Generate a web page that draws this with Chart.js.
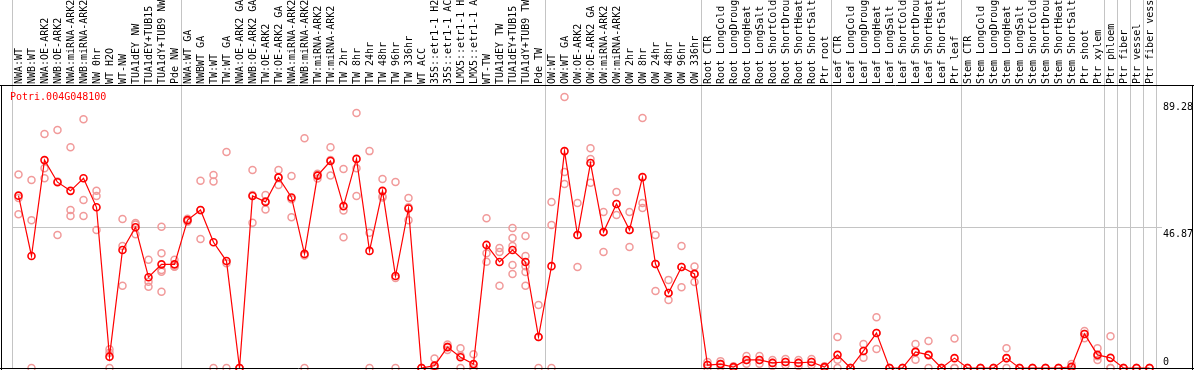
<!DOCTYPE html>
<html>
<head>
<meta charset="utf-8">
<script src="https://cdn.jsdelivr.net/npm/chart.js@4.4.0/dist/chart.umd.min.js"></script>
<style>
  html, body { margin: 0; padding: 0; background: #fff; }
</style>
</head>
<body>
<canvas id="grafico" width="1194" height="370"></canvas>
<script>
// Muestras (eje x, arriba)
const muestras = [
  'NWA:WT', 'NWB:WT', 'NWA:OE-ARK2', 'NWB:OE-ARK2', 'NWA:miRNA-ARK2', 'NWB:miRNA-ARK2',
  'NW 0hr', 'WT H2O', 'WT-NW', 'TUA1dEY NW', 'TUA1dEY+TUB15 NW', 'TUA1dY+TUB9 NW', 'Pde NW',
  'NWA:WT GA', 'NWBWT GA', 'TW:WT', 'TW:WT GA', 'NWA:OE-ARK2 GA', 'NWB:OE-ARK2 GA',
  'TW:OE-ARK2', 'TW:OE-ARK2 GA', 'NWA:miRNA-ARK2', 'NWB:miRNA-ARK2', 'TW:miRNA-ARK2', 'TW:miRNA-ARK2',
  'TW 2hr', 'TW 8hr', 'TW 24hr', 'TW 48hr', 'TW 96hr', 'TW 336hr', 'WT ACC',
  '35S::etr1-1 H2O', '35S::etr1-1 ACC', 'LMX5::etr1-1 H2O', 'LMX5::etr1-1 ACC',
  'WT-TW', 'TUA1dEY TW', 'TUA1dEY+TUB15 TW', 'TUA1dY+TUB9 TW', 'Pde TW',
  'OW:WT', 'OW:WT GA', 'OW:OE-ARK2', 'OW:OE-ARK2 GA', 'OW:miRNA-ARK2', 'OW:miRNA-ARK2',
  'OW 2hr', 'OW 8hr', 'OW 24hr', 'OW 48hr', 'OW 96hr', 'OW 336hr',
  'Root CTR', 'Root LongCold', 'Root LongDrought', 'Root LongHeat', 'Root LongSalt',
  'Root ShortCold', 'Root ShortDrought', 'Root ShortHeat', 'Root ShortSalt', 'Ptr root',
  'Leaf CTR', 'Leaf LongCold', 'Leaf LongDrought', 'Leaf LongHeat', 'Leaf LongSalt',
  'Leaf ShortCold', 'Leaf ShortDrought', 'Leaf ShortHeat', 'Leaf ShortSalt', 'Ptr leaf',
  'Stem CTR', 'Stem LongCold', 'Stem LongDrought', 'Stem LongHeat', 'Stem LongSalt',
  'Stem ShortCold', 'Stem ShortDrought', 'Stem ShortHeat', 'Stem ShortSalt',
  'Ptr shoot', 'Ptr xylem', 'Ptr phloem', 'Ptr fiber', 'Ptr vessel', 'Ptr fiber vessel'
];

// Valor medio por muestra (linea roja)
const medias = [
  57.7, 37.5, 69.6, 62.2, 59.3, 63.5, 53.8, 3.8, 39.5, 47.1, 30.4, 34.7, 34.7,
  49.5, 52.9, 42.1, 35.8, 0, 57.6, 55.6, 63.8, 57.1, 38.2, 64.4, 69.3,
  54.2, 70.0, 39.2, 59.3, 30.8, 53.4, 0, 0.8, 7.0, 3.6, 1.3,
  41.2, 35.5, 39.5, 35.5, 10.4,
  34.1, 72.6, 44.5, 68.6, 45.5, 54.9, 46.2, 63.9, 34.8, 25.1, 33.8, 31.5,
  1.0, 1.3, 0.3, 2.7, 2.7, 1.7, 2.0, 1.7, 2.0, 0.3,
  4.4, 0, 5.7, 11.7, 0, 0, 5.4, 4.4, 0, 3.3,
  0, 0, 0, 3.3, 0, 0, 0, 0, 0.4,
  11.4, 4.4, 3.4, 0, 0, 0
];

// Replicas por muestra (circulos rosados)
const replicas = [
  [64.8, 51.5, 56.9], [62.9, 49.5, 0], [78.3, 66.9, 63.5], [79.7, 44.5, 62.4],
  [73.9, 52.9, 50.9], [83.3, 56.2, 50.9], [59.3, 57.6, 46.2], [6.3, 5.1, 0],
  [49.9, 40.8, 27.5], [48.0, 48.5, 44.8], [36.2, 28.9, 27.2], [47.3, 38.4, 32.8, 32.2, 25.5],
  [36.2, 33.9, 34.0],
  [49.5, 49.0, 50.0], [62.7, 43.2, 52.8], [64.6, 62.4, 0], [72.3, 0, 35.1], [0, 0, 0],
  [66.3, 48.6, 57.9], [57.9, 53.1, 55.8], [66.3, 61.3, 63.8], [64.3, 50.5, 56.5],
  [76.9, 37.7, 0], [64.8, 63.4, 65.0], [73.9, 64.4, 69.6],
  [66.6, 52.7, 43.8], [85.4, 66.9, 57.6], [72.6, 45.3, 0], [63.3, 57.1, 57.5],
  [62.3, 0, 30.1], [56.9, 49.5, 53.8], [0, 0, 0],
  [3.2, 0.4, 0], [7.9, 6.0, 7.1], [6.6, 0, 4.2], [4.6, 0, 0],
  [50.1, 38.4, 35.6], [38.8, 27.5, 40.2], [46.9, 40.8, 34.5, 31.5, 43.5],
  [44.2, 37.5, 34.1, 27.5, 32.1], [21.1, 0, 10.4],
  [55.6, 47.9, 0], [90.7, 65.6, 61.6], [55.2, 44.5, 33.8], [73.6, 62.0, 70.0],
  [52.2, 45.5, 38.8], [58.9, 54.9, 51.2], [52.2, 46.2, 40.5], [83.7, 53.6, 55.2],
  [44.5, 34.8, 25.8], [29.5, 25.1, 22.8], [40.8, 33.8, 27.0], [31.5, 28.8, 34.0],
  [2.0, 1.0, 0], [2.3, 1.3, 0.3], [0.6, 0.3, 0], [4.0, 2.7, 1.4], [4.0, 2.7, 1.4],
  [2.7, 1.7, 0.7], [3.0, 2.0, 1.0], [2.7, 1.7, 0.7], [3.0, 2.0, 1.0], [0.6, 0.3, 0],
  [10.4, 2.8, 0], [0, 0, 0], [8.0, 5.7, 3.4], [17.0, 11.7, 6.4], [0, 0, 0], [0, 0, 0],
  [8.0, 5.4, 2.8], [9.0, 4.2, 0], [0, 0, 0], [9.9, 0, 0],
  [0, 0, 0], [0, 0, 0], [0, 0, 0], [6.6, 3.3, 0], [0, 0, 0], [0, 0, 0],
  [0, 0, 0], [0, 0, 0], [1.3, 0, 0],
  [12.4, 11.4, 10.0], [6.6, 2.7, 3.9], [10.6, 0, 0], [0, 0, 0], [0, 0, 0], [0, 0, 0]
];

// Marcas del eje y y cortes entre grupos de muestras
const marcasY = [0, 46.87, 89.28];
const cortesGrupo = [0, 13, 41, 53, 63, 73, 84, 85, 86, 87, 88];

const gris = '#c4c4c4';
const fuente = { family: 'DejaVu Sans Mono', size: 10 };

// transponer las replicas en series con huecos
const maxRep = Math.max(...replicas.map(r => r.length));
const seriesReplica = [];
for (let k = 0; k < maxRep; k++) {
  seriesReplica.push({
    label: 'rep' + (k + 1),
    data: replicas.map(r => (r[k] === undefined ? null : r[k])),
    showLine: false,
    pointRadius: 3.5,
    pointBorderWidth: 1.5,
    pointBorderColor: '#f19a9a',
    pointBackgroundColor: 'rgba(0,0,0,0)',
    clip: false
  });
}

// marco negro y nombre del gen
const marco = {
  id: 'marco',
  afterDraw(chart) {
    const c = chart.ctx;
    c.save();
    c.strokeStyle = '#000';
    c.lineWidth = 1;
    c.beginPath();
    c.moveTo(0, 85.5);
    c.lineTo(1194, 85.5);
    c.moveTo(1.5, 85.5);
    c.lineTo(1.5, 370);
    c.moveTo(1192.5, 85.5);
    c.lineTo(1192.5, 370);
    c.moveTo(0, 368.5);
    c.lineTo(1194, 368.5);
    c.stroke();
    c.fillStyle = '#ff0000';
    c.font = '10px "DejaVu Sans Mono"';
    c.textBaseline = 'middle';
    c.fillText('Potri.004G048100', 10, 97);
    c.restore();
  }
};

const ctx = document.getElementById('grafico').getContext('2d');
new Chart(ctx, {
  type: 'line',
  data: {
    labels: muestras,
    datasets: [
      {
        label: 'Potri.004G048100',
        data: medias,
        borderColor: '#ff0000',
        borderWidth: 1.2,
        pointRadius: 3.5,
        pointBorderWidth: 1.6,
        pointBorderColor: '#ff0000',
        pointBackgroundColor: 'rgba(0,0,0,0)',
        tension: 0,
        clip: false
      },
      ...seriesReplica
    ]
  },
  options: {
    responsive: false,
    animation: false,
    layout: { autoPadding: false, padding: { left: 12, right: 0, top: 0, bottom: 2 } },
    plugins: { legend: { display: false }, tooltip: { enabled: false } },
    scales: {
      x: {
        type: 'category',
        position: 'top',
        offset: true,
        grid: {
          offset: true,
          tickLength: 86,
          lineWidth: 1,
          color: (c) => (c.index === undefined || cortesGrupo.includes(c.index)) ? gris : 'rgba(0,0,0,0)'
        },
        border: { display: false },
        ticks: {
          autoSkip: false,
          minRotation: 90,
          maxRotation: 90,
          padding: -84,
          labelOffset: 13,
          color: '#000',
          font: fuente
        },
        afterFit: (s) => {
          s.height = 86;
          s.paddingLeft = 0;
          s.paddingRight = 0;
        }
      },
      y: {
        position: 'right',
        min: 0,
        max: 94.4,
        afterBuildTicks: (s) => { s.ticks = marcasY.map(v => ({ value: v })); },
        grid: {
          tickLength: 6,
          color: (c) => (c.tick && c.tick.value === 46.87) ? gris : 'rgba(0,0,0,0)'
        },
        border: { display: false },
        ticks: {
          padding: 1,
          color: '#000',
          font: fuente,
          callback: (v) => v === 0 ? ['0', ''] : ['', String(v)]
        },
        afterFit: (s) => {
          s.width = 38;
          s.paddingTop = 0;
          s.paddingBottom = 0;
        }
      }
    }
  },
  plugins: [marco]
});
</script>
</body>
</html>
